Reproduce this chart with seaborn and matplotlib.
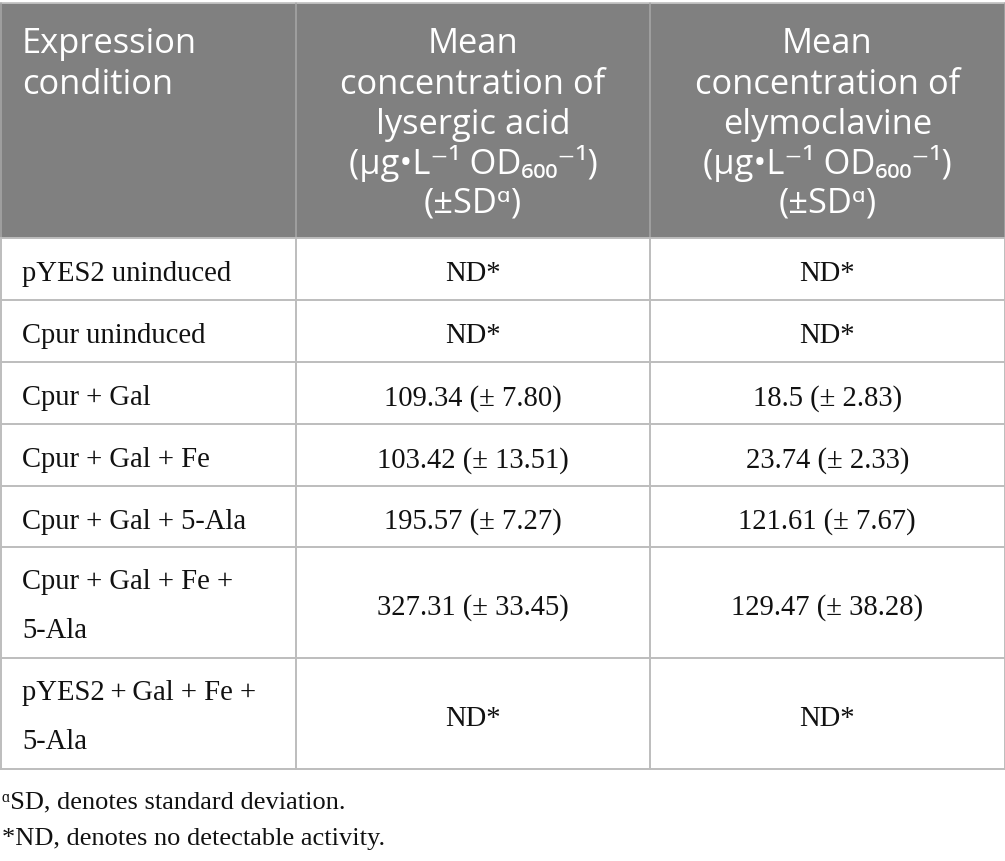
import matplotlib
matplotlib.use("Agg")
import matplotlib.pyplot as plt
import seaborn as sns

# ---------------- data ----------------
conditions = [
    ["pYES2 uninduced"],
    ["Cpur uninduced"],
    ["Cpur + Gal"],
    ["Cpur + Gal + Fe"],
    ["Cpur + Gal + 5-Ala"],
    ["Cpur + Gal + Fe +", "5-Ala"],
    ["pYES2\u2009+\u2009Gal + Fe +", "5-Ala"],
]
lys_mean = [None, None, 109.34, 103.42, 195.57, 327.31, None]
lys_sd = [None, None, 7.80, 13.51, 7.27, 33.45, None]
ely_mean = [None, None, 18.5, 23.74, 121.61, 129.47, None]
ely_sd = [None, None, 2.83, 2.33, 7.67, 38.28, None]

header_col1 = ["Expression", "condition"]
header_col2 = ["Mean", "concentration of", "lysergic acid",
               "(\u03bcg\u2022L\u207b\u00b9 OD\u2086\u2080\u2080\u207b\u00b9)", "(\u00b1SD\u1d45)"]
header_col3 = ["Mean", "concentration of", "elymoclavine",
               "(\u03bcg\u2022L\u207b\u00b9 OD\u2086\u2080\u2080\u207b\u00b9)", "(\u00b1SD\u1d45)"]
footnotes = ["\u1d45SD, denotes standard deviation.",
             "*ND, denotes no detectable activity."]
nd_label = "ND*"

# ---------------- layout ----------------
sns.set_theme(style="white")
W, H = 1005, 862
fig = plt.figure(figsize=(W / 100, H / 100), dpi=100)
ax = fig.add_axes([0, 0, 1, 1])
ax.set_xlim(0, W)
ax.set_ylim(H, 0)
ax.axis("off")

sans = ["Open Sans", "DejaVu Sans"]
serif = ["Liberation Serif", "DejaVu Serif", "DejaVu Sans"]

col_x = [0.5, 296, 650, 1004.5]
header_top, header_bot = 4, 239
row_edges = [239, 301, 363, 425, 487, 548, 659, 770]

header_gray = "#808080"
line_col = "#bdbdbd"
ink = "#111111"

# header background
ax.add_patch(plt.Rectangle((0, header_top), W, header_bot - header_top,
                           facecolor=header_gray, edgecolor="none", zorder=0))
ax.plot([0, W], [header_top, header_top], color="#c4c4c4", lw=1.3, zorder=2)
for x in col_x:
    ax.plot([x, x], [header_top, header_bot], color="#a8a8a8", lw=1.1, zorder=2)

# body lines
for y in row_edges:
    ax.plot([0, W], [y, y], color=line_col, lw=1.4, zorder=2)
for x in col_x:
    ax.plot([x, x], [row_edges[0], row_edges[-1]], color=line_col, lw=1.4, zorder=2)

# header text
hs = 24.8
hbase = [53, 93.5, 134, 174, 213]
for i, t in enumerate(header_col1):
    ax.text(22, hbase[i], t, color="white", fontsize=hs, family=sans,
            ha="left", va="baseline")
for cx, lines in [((col_x[1] + col_x[2]) / 2, header_col2),
                  ((col_x[2] + col_x[3]) / 2, header_col3)]:
    for i, t in enumerate(lines):
        ax.text(cx, hbase[i], t, color="white", fontsize=hs, family=sans,
                ha="center", va="baseline")

# body text
bs = 20.6
c2 = (col_x[1] + col_x[2]) / 2
c3 = (col_x[2] + col_x[3]) / 2
for r, cond in enumerate(conditions):
    top, bot = row_edges[r], row_edges[r + 1]
    if len(cond) == 1:
        ax.text(22, top + 42.5, cond[0], fontsize=bs, family=serif,
                color=ink, ha="left", va="baseline")
    else:
        for k, t in enumerate(cond):
            ax.text(22, top + 41 + 49.5 * k, t, fontsize=bs, family=serif,
                    color=ink, ha="left", va="baseline")
    mid_base = (top + bot) / 2 + 11.5
    for cx, m, s in [(c2, lys_mean[r], lys_sd[r]), (c3, ely_mean[r], ely_sd[r])]:
        txt = nd_label if m is None else f"{m!r} (\u00b1 {s:.2f})"
        ax.text(cx, mid_base, txt, fontsize=bs, family=serif,
                color=ink, ha="center", va="baseline")

# footnotes
fbase = [808, 845]
for i, t in enumerate(footnotes):
    ax.text(2, fbase[i], t, fontsize=19, family=serif, color=ink,
            ha="left", va="baseline")

fig.savefig("out.png", dpi=100)
